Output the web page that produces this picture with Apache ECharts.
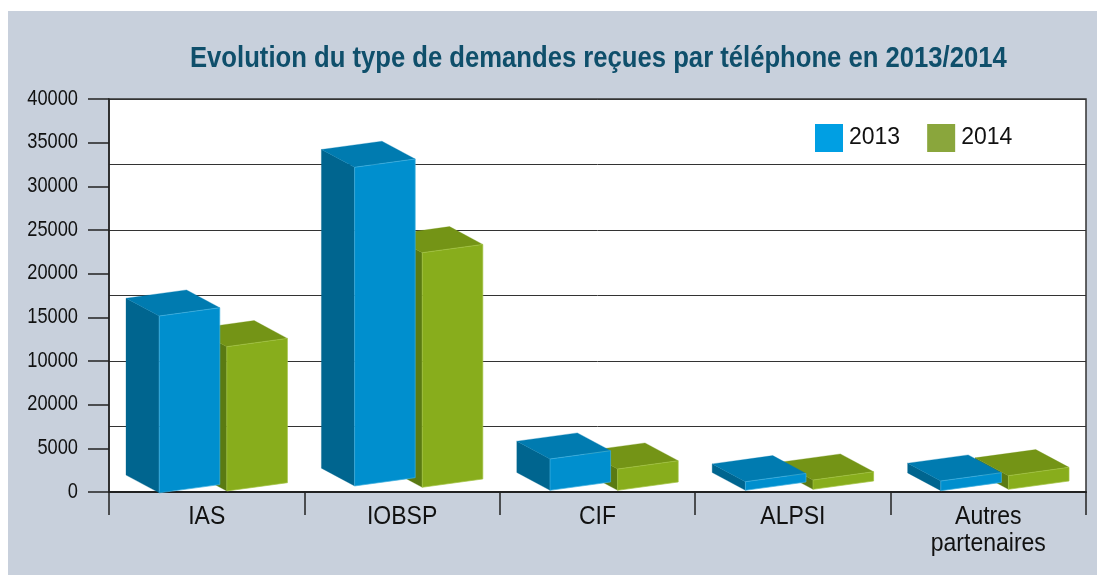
<!DOCTYPE html>
<html>
<head>
<meta charset="utf-8">
<title>Evolution du type de demandes</title>
<script src="https://cdn.jsdelivr.net/npm/echarts@6/dist/echarts.min.js"></script>
<style>
html, body { margin: 0; padding: 0; background: #fff; }
#main { width: 1097px; height: 575px; }
</style>
</head>
<body>
<div id="main"></div>
<script>
var categories = ["IAS", "IOBSP", "CIF", "ALPSI", "Autres\npartenaires"];
// the printed scale runs 0, 5000, 20000, 10000... so labels are not the axis position
var yTickLabels = ["0", "5000", "20000", "10000", "15000", "20000", "25000", "30000", "35000", "40000"];
// front left corner of each block, read against the evenly spaced ticks (5000 per tick)
var top2013 = [20150, 37180, 3780, 1180, 1260];
var base2013 = [-100, 690, 195, 195, 150];
var top2014 = [16640, 27400, 2630, 1370, 1870];
var base2014 = [115, 540, 195, 310, 310];

var TICK_STEP = 5000;
// no narrow font is installed, so text gets squeezed horizontally
var FONT = '"Liberation Sans", sans-serif';

function face(points, color, edge) {
    return {
        type: 'polygon',
        shape: { points: points },
        style: { fill: color, stroke: edge || color, lineWidth: edge ? 0.7 : 0.3 }
    };
}

function blockRenderer(offset, colors) {
    return function (params, api) {
        var band = api.size([1, 0])[0];
        var cat = api.value(0);
        var low = api.coord([cat, api.value(1)]);
        var high = api.coord([cat, api.value(2)]);
        var x = low[0] + offset * band;
        var w = band * 0.31;
        var dx = band * 0.17;
        var rise = 8.3;
        var back = 17.8;
        return {
            type: 'group',
            children: [
                face([[x, low[1]], [x, high[1]], [x - dx, high[1] - back], [x - dx, low[1] - back]], colors.side),
                face([[x, high[1]], [x + w, high[1] - rise], [x + w - dx, high[1] - rise - back], [x - dx, high[1] - back]], colors.top),
                face([[x, low[1]], [x + w, low[1] - rise], [x + w, high[1] - rise], [x, high[1]]], colors.front, colors.edge)
            ]
        };
    };
}

function rows(base, top) {
    var out = [];
    for (var i = 0; i < categories.length; i++) {
        out.push([i, base[i], top[i]]);
    }
    return out;
}

function renderYLabel(params, api) {
    var p = api.coord([0, api.value(1)]);
    return {
        type: 'text',
        x: params.coordSys.x - 31,
        y: p[1] - 0.5,
        scaleX: 0.83,
        style: {
            text: yTickLabels[params.dataIndex],
            align: 'right',
            verticalAlign: 'middle',
            font: '22px ' + FONT,
            fill: '#111'
        }
    };
}

function renderXLabel(params, api) {
    var p = api.coord([api.value(0), 0]);
    return {
        type: 'text',
        x: p[0],
        y: p[1] + 12,
        scaleX: 0.92,
        style: {
            text: categories[params.dataIndex],
            align: 'center',
            verticalAlign: 'top',
            font: '25px ' + FONT,
            lineHeight: 27,
            fill: '#111'
        }
    };
}

var yLabelRows = [];
for (var i = 0; i < yTickLabels.length; i++) {
    yLabelRows.push([0, i * TICK_STEP]);
}
var xLabelRows = [];
for (var j = 0; j < categories.length; j++) {
    xLabelRows.push([j, 0]);
}

var chart = echarts.init(document.getElementById('main'), null, { renderer: 'canvas' });
chart.setOption({
    animation: false,
    backgroundColor: '#fff',
    graphic: [{
        type: 'rect',
        z: -10,
        shape: { x: 8, y: 11, width: 1089, height: 564 },
        style: { fill: '#c8d0dc' }
    }, {
        type: 'text',
        x: 190,
        y: 58.5,
        scaleX: 0.855,
        style: {
            text: 'Evolution du type de demandes reçues par téléphone en 2013/2014',
            verticalAlign: 'middle',
            font: 'bold 30px ' + FONT,
            fill: '#0f4f6b'
        }
    }],
    legend: {
        left: 815,
        top: 124,
        padding: 0,
        itemWidth: 28,
        itemHeight: 28,
        itemGap: 27,
        icon: 'rect',
        textStyle: { fontFamily: FONT, fontSize: 23, color: '#111', padding: [2, 0, 0, 1] },
        data: [
            { name: '2013', itemStyle: { color: '#009fe3' } },
            { name: '2014', itemStyle: { color: '#8aa63c' } }
        ]
    },
    grid: {
        left: 109,
        top: 99,
        width: 977,
        height: 393,
        show: true,
        backgroundColor: '#fff',
        borderColor: '#333',
        borderWidth: 1.5
    },
    xAxis: {
        type: 'category',
        data: categories,
        axisLine: { lineStyle: { color: '#222', width: 2 } },
        axisTick: { show: true, length: 23, lineStyle: { color: '#222', width: 1.5 } },
        axisLabel: { show: false }
    },
    yAxis: [{
        type: 'value',
        min: 0,
        max: yTickLabels.length * TICK_STEP - TICK_STEP,
        interval: TICK_STEP,
        axisLine: { show: true, lineStyle: { color: '#222', width: 1.5 } },
        axisTick: { show: true, length: 21, lineStyle: { color: '#222', width: 1.5 } },
        axisLabel: { show: false },
        splitLine: { show: false }
    }, {
        // the horizontal rules do not follow the ticks, there are 6 bands of them
        type: 'value',
        min: 0,
        max: 6,
        interval: 1,
        position: 'right',
        axisLine: { show: false },
        axisTick: { show: false },
        axisLabel: { show: false },
        splitLine: { show: true, lineStyle: { color: '#333', width: 1 } }
    }],
    series: [{
        name: '2014',
        type: 'custom',
        z: 3,
        itemStyle: { color: '#8aa63c' },
        encode: { x: 0, y: [1, 2] },
        data: rows(base2014, top2014),
        renderItem: blockRenderer(0.103, { front: '#88ad1c', top: '#749416', side: '#5a7a12', edge: '#a2c340' })
    }, {
        name: '2013',
        type: 'custom',
        z: 4,
        itemStyle: { color: '#009fe3' },
        encode: { x: 0, y: [1, 2] },
        data: rows(base2013, top2013),
        renderItem: blockRenderer(-0.243, { front: '#008fce', top: '#007bb0', side: '#00658f', edge: '#3fb0e0' })
    }, {
        name: 'yLabels',
        type: 'custom',
        silent: true,
        z: 5,
        encode: { x: 0, y: 1 },
        data: yLabelRows,
        renderItem: renderYLabel
    }, {
        name: 'xLabels',
        type: 'custom',
        silent: true,
        z: 5,
        encode: { x: 0, y: 1 },
        data: xLabelRows,
        renderItem: renderXLabel
    }]
});
</script>
</body>
</html>
